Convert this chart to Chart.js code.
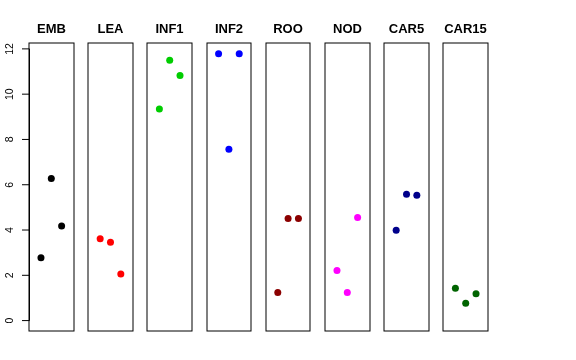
<!DOCTYPE html>
<html>
<head>
<meta charset="utf-8">
<script src="https://cdn.jsdelivr.net/npm/chart.js@4.4.1/dist/chart.umd.min.js"></script>
<style>
  html, body { margin: 0; padding: 0; background: #ffffff; }
  #wrap { width: 576px; height: 360px; }
</style>
</head>
<body>
<div id="wrap"><canvas id="c" width="576" height="360"></canvas></div>
<script>
// ---- data ----
const categories = ['EMB', 'LEA', 'INF1', 'INF2', 'ROO', 'NOD', 'CAR5', 'CAR15'];
const EMB   = [2.78, 6.27, 4.18];
const LEA   = [3.61, 3.46, 2.06];
const INF1  = [9.34, 11.50, 10.82];
const INF2  = [11.78, 7.57, 11.78];
const ROO   = [1.24, 4.51, 4.51];
const NOD   = [2.21, 1.24, 4.55];
const CAR5  = [3.99, 5.58, 5.54];
const CAR15 = [1.43, 0.77, 1.19];
const seriesValues = [EMB, LEA, INF1, INF2, ROO, NOD, CAR5, CAR15];
const pointColors = ['#000000', '#FF0000', '#00CD00', '#0000FF', '#8B0000', '#FF00FF', '#00008B', '#006400'];
const yTicks = [0, 2, 4, 6, 8, 10, 12];
const replicates = [1, 2, 3];

// ---- layout of panels in x units ----
const STRIDE = 5.736;     // distance between panel origins
const PAD_L = -0.16, PAD_R = 4.16;  // each panel's x range around replicates 1..3

const datasets = categories.map((name, i) => ({
  label: name,
  data: seriesValues[i].map((v, j) => ({ x: i * STRIDE + replicates[j], y: v })),
  backgroundColor: pointColors[i],
  borderWidth: 0,
  pointRadius: 3.5,
  pointHoverRadius: 3.5,
  showLine: false
}));

const panelPlugin = {
  id: 'panels',
  afterDraw(chart) {
    const ctx = chart.ctx;
    const xs = chart.scales.x, ys = chart.scales.y;
    const area = chart.chartArea;
    ctx.save();
    // boxes
    ctx.strokeStyle = '#000000';
    ctx.lineWidth = 1;
    categories.forEach((name, i) => {
      const l = Math.round(xs.getPixelForValue(i * STRIDE + PAD_L));
      const r = Math.round(xs.getPixelForValue(i * STRIDE + PAD_R));
      const t = Math.round(area.top), b = Math.round(area.bottom);
      ctx.strokeRect(l, t, r - l, b - t);
      // title
      ctx.fillStyle = '#000000';
      ctx.font = 'bold 13px "Liberation Sans", Arial, sans-serif';
      ctx.textAlign = 'center';
      ctx.textBaseline = 'alphabetic';
      ctx.fillText(name, (l + r) / 2, 33);
    });
    // y axis
    const ax = Math.round(xs.getPixelForValue(PAD_L)) + 0.5;
    ctx.beginPath();
    ctx.moveTo(ax, ys.getPixelForValue(yTicks[0]));
    ctx.lineTo(ax, ys.getPixelForValue(yTicks[yTicks.length - 1]));
    yTicks.forEach(v => {
      const py = ys.getPixelForValue(v);
      ctx.moveTo(ax, py);
      ctx.lineTo(ax - 7.5, py);
    });
    ctx.stroke();
    ctx.font = '10.5px "Liberation Sans", Arial, sans-serif';
    ctx.textAlign = 'center';
    ctx.textBaseline = 'alphabetic';
    yTicks.forEach(v => {
      const py = ys.getPixelForValue(v);
      ctx.save();
      ctx.translate(12.5, py);
      ctx.rotate(-Math.PI / 2);
      ctx.fillText(String(v), 0, 0);
      ctx.restore();
    });
    ctx.restore();
  }
};

new Chart(document.getElementById('c'), {
  type: 'scatter',
  data: { datasets },
  options: {
    responsive: false,
    animation: false,
    devicePixelRatio: 1,
    layout: { padding: { left: 29, right: 88, top: 43, bottom: 29 } },
    plugins: { legend: { display: false }, tooltip: { enabled: false }, title: { display: false } },
    scales: {
      x: { type: 'linear', display: false, min: PAD_L, max: 7 * STRIDE + PAD_R },
      y: { type: 'linear', display: false, min: -0.46, max: 12.26 }
    }
  },
  plugins: [panelPlugin]
});
</script>
</body>
</html>
